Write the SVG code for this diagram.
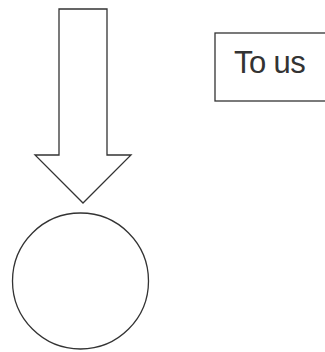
<svg xmlns="http://www.w3.org/2000/svg" width="325" height="352" viewBox="0 0 325 352">
<style>
.s{fill:#fff;stroke:#333;stroke-width:1.3}
.t{font-family:"Liberation Sans",Arial,sans-serif;font-size:31px;fill:#333;letter-spacing:-0.6px}
</style>
<rect width="325" height="352" fill="#fff"/>
<g id="connectors">
<path class="s" d="M59,9 L107,9 L107,155 L131,155 L83,203 L35,155 L59,155 Z"/>
</g>
<g id="node-circle">
<circle class="s" cx="80.5" cy="281" r="68"/>
</g>
<g id="node-tous">
<rect class="s" x="215" y="33" width="120" height="68"/>
<text class="t" x="234" y="73">To us</text>
</g>
</svg>
